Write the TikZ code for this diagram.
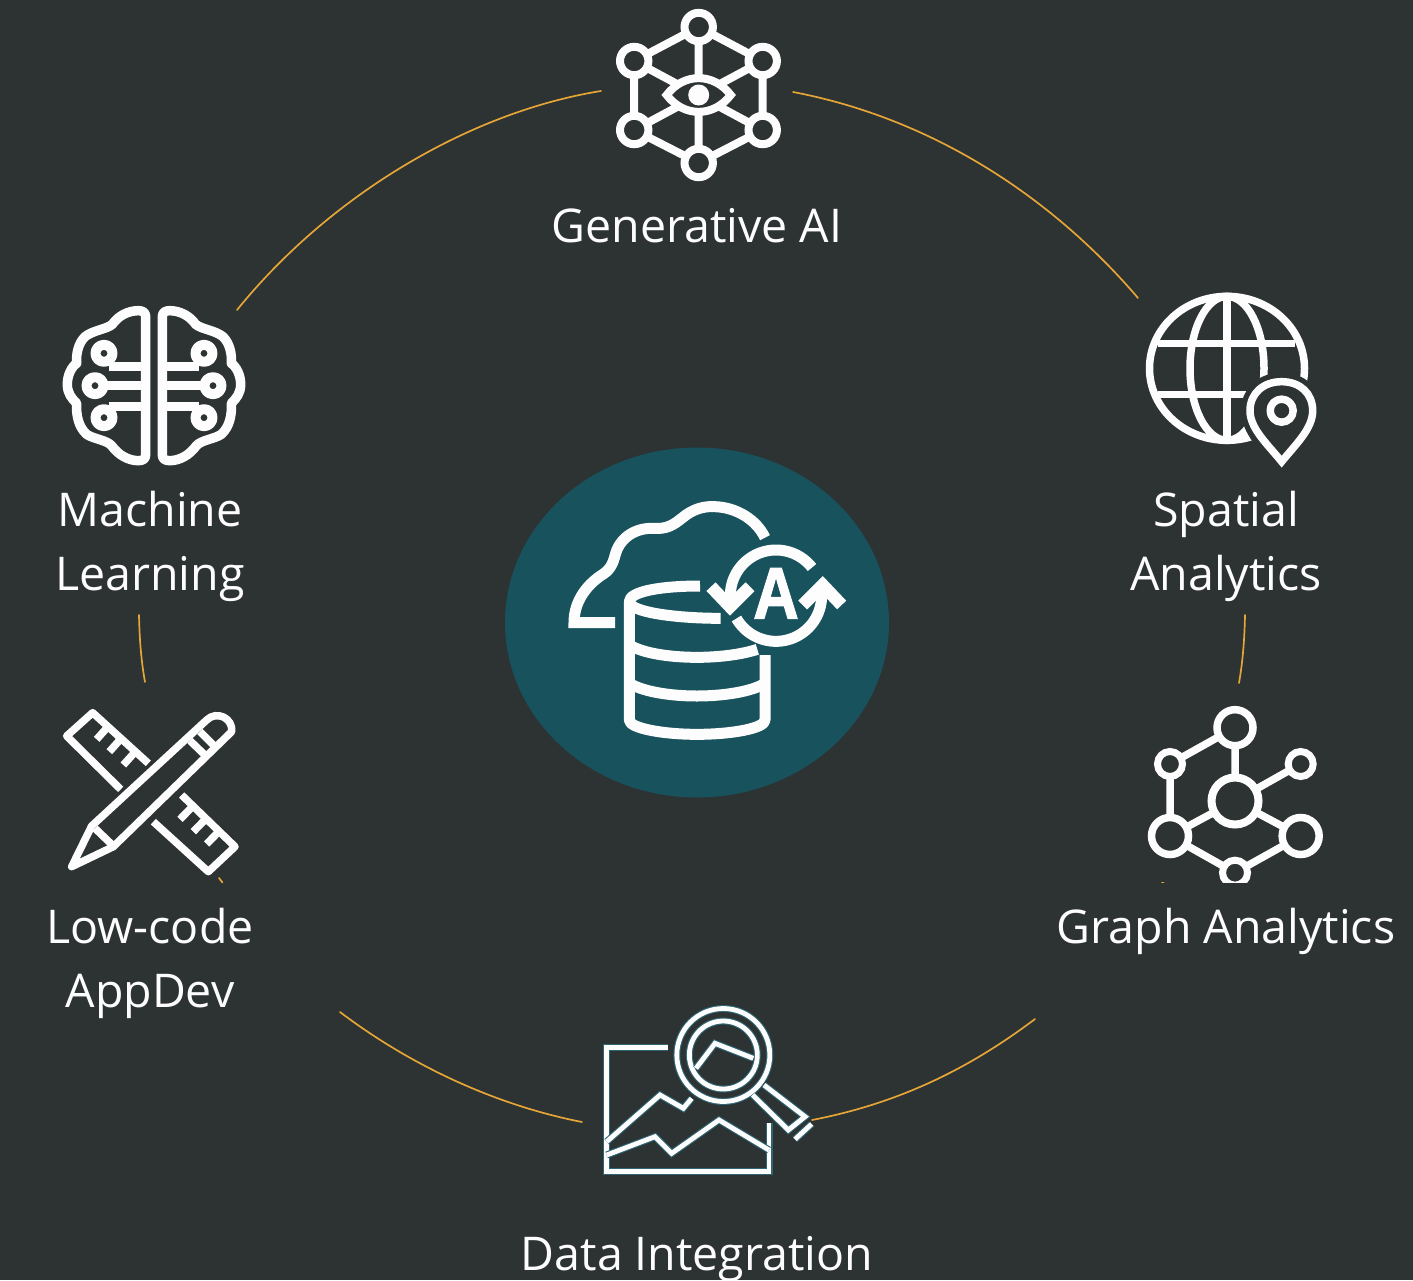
\documentclass[tikz,border=0pt]{standalone}
\usepackage{fontspec}
\usetikzlibrary{shapes.geometric}
\setmainfont{Open Sans}
\newfontfamily\iconfont{Liberation Sans}[BoldFeatures={FakeBold=2}]
\definecolor{bgcol}{HTML}{2D3233}
\definecolor{tealcol}{HTML}{18525D}
\definecolor{arccol}{HTML}{E5A537}
\definecolor{glowcol}{HTML}{2F6473}
\definecolor{inkcol}{HTML}{FDFDFD}
\tikzset{
  arcline/.style={draw=arccol,line width=1.7pt,line cap=round},
  labeltext/.style={text=inkcol,font=\fontsize{46.5}{64}\selectfont,align=center,inner sep=0pt},
  ink/.style={draw=inkcol,line width=#1,line join=round},
  ink/.default=8pt,
  ring/.style={draw=inkcol,fill=bgcol,line width=#1},
  ring/.default=8pt,
  zoomed/.style={x=0.33333pt,y=-0.33333pt},
  glowlo/.style={draw=glowcol,line width=7pt,line join=miter},
  glowhi/.style={draw=inkcol,line width=4.8pt,line join=miter},
}
\newcommand{\glowdraw}[1]{\draw[glowlo] #1; \draw[glowhi] #1;}
\begin{document}
\begin{tikzpicture}[x=1pt,y=-1pt]
\useasboundingbox (0,0) rectangle (1413,1280);
\clip (0,0) rectangle (1413,1280);
\fill[bgcol] (0,0) rectangle (1413,1280);

% ring of arcs
\coordinate (a1) at (601,91); \coordinate (a2) at (237,310);
\coordinate (b1) at (793,92); \coordinate (b2) at (1138,298);
\coordinate (c1) at (340,1012); \coordinate (c2) at (582,1122);
\coordinate (d1) at (812,1120); \coordinate (d2) at (1035,1019);
\coordinate (e1) at (139,615); \coordinate (e2) at (145,682);
\coordinate (f1) at (1245,615); \coordinate (f2) at (1239,683);
\draw[arcline] (a1) .. controls (470,112) and (330,195) .. (a2);
\draw[arcline] (b1) .. controls (930,118) and (1050,195) .. (b2);
\draw[arcline] (c1) .. controls (410,1065) and (495,1105) .. (c2);
\draw[arcline] (d1) .. controls (900,1103) and (970,1068) .. (d2);
\draw[arcline] (e1) .. controls (139.5,638) and (141,660) .. (e2);
\draw[arcline] (f1) .. controls (1244.5,638) and (1243,660) .. (f2);
\coordinate (k1) at (219,878); \coordinate (k2) at (222.5,882.5);
\draw[arcline] (k1) -- (k2);
\coordinate (h1) at (1162,882.5); \coordinate (h2) at (1163.5,882.5);
\draw[arcline] (h1) -- (h2);

% centre
\node[ellipse,fill=tealcol,minimum width=384pt,minimum height=350pt,inner sep=0pt] (hub) at (697,622.5) {};
\begin{scope}[shift={(550,490)},zoomed]
  \draw[ink=11pt,line cap=butt,line join=miter] (195,398) -- (72,398) .. controls (72,330) and (115,280) .. (160,252)
     .. controls (185,235) and (190,215) .. (197,190) .. controls (212,140) and (260,113) .. (310,115)
     .. controls (350,118) and (370,105) .. (395,85) .. controls (430,55) and (465,48) .. (495,50)
     .. controls (560,52) and (620,90) .. (645,143);
  \draw[ink=11pt,line cap=butt] (450,288) .. controls (330,288) and (238,305) .. (238,335)
     .. controls (238,365) and (370,385) .. (512,385);
  \draw[ink=11pt,line cap=butt] (238,335) -- (238,690) .. controls (238,715) and (340,733) .. (441,733)
     .. controls (545,733) and (645,715) .. (645,690) -- (645,495);
  \draw[ink=11pt,line cap=butt] (238,465) .. controls (280,490) and (360,502) .. (441,502)
     .. controls (500,502) and (570,495) .. (622,478);
  \draw[ink=11pt,line cap=butt] (238,580) .. controls (280,605) and (360,618) .. (441,618)
     .. controls (520,618) and (605,605) .. (645,580);
  \draw[ink=11pt,line cap=butt] plot[domain=170:322,samples=50] ({678+137*cos(\x)},{317+137*sin(\x)});
  \draw[ink=11pt,line cap=butt] plot[domain=-12:150,samples=50] ({678+137*cos(\x)},{317+137*sin(\x)});
  \draw[ink=12.5pt,line cap=butt,line join=miter] (483,290) -- (540,350) -- (600,290);
  \draw[ink=12.5pt,line cap=butt,line join=miter] (758,345) -- (818,285) -- (875,345);
  \node[inner sep=0pt,text=inkcol,font=\iconfont\bfseries\fontsize{73}{73}\selectfont,xscale=0.86] (letterA) at (678,310) {A};
\end{scope}

% top icon
\begin{scope}[shift={(698.7,95)}]
  \coordinate (t0) at (0,-68); \coordinate (t1) at (64,-34); \coordinate (t2) at (64,35);
  \coordinate (t3) at (0,68); \coordinate (t4) at (-64.5,35); \coordinate (t5) at (-64.5,-34);
  \coordinate (tc) at (0,0);
  \draw[ink] (t0) -- (t1) -- (t2) -- (t3) -- (t4) -- (t5) -- cycle;
  \draw[ink] (t0) -- (t3) (t1) -- (t4) (t2) -- (t5);
  \draw[ink=8pt,fill=bgcol,line join=miter] (-32,0) .. controls (-15,-22.5) and (15,-22.5) .. (32,0) .. controls (15,22.5) and (-15,22.5) .. (-32,0) -- cycle;
  \fill[inkcol] (tc) circle[radius=10.5pt];
  \foreach \p in {t0,t1,t2,t3,t4,t5} \draw[ring] (\p) circle[radius=14.2pt];
\end{scope}

% brain
\begin{scope}[shift={(50,295)},zoomed]
  \foreach \sx/\ox in {1/0,-1/624}{
  \begin{scope}[shift={(\ox,0)},xscale=\sx]
    \draw[ink=9.5pt] (287,480) -- (287,65) .. controls (287,52) and (278,47) .. (265,47)
      .. controls (235,47) and (205,62) .. (187,88) .. controls (170,103) and (130,105) .. (105,125)
      .. controls (85,145) and (78,175) .. (80,205) .. controls (65,215) and (52,240) .. (52,268)
      .. controls (52,295) and (65,310) .. (80,325) .. controls (78,360) and (85,395) .. (110,418)
      .. controls (130,432) and (170,435) .. (185,452) .. controls (205,480) and (235,497) .. (265,497)
      .. controls (278,497) and (287,492) .. (287,480) -- cycle;
    \draw[ink=10pt,fill=bgcol] (162,175) circle[radius=8.5pt];
    \draw[ink=10pt,fill=bgcol] (135,272) circle[radius=8.5pt];
    \draw[ink=10pt,fill=bgcol] (162,368) circle[radius=8.5pt];
    \draw[ink=9.5pt] (178,214) -- (287,214) (160,272) -- (287,272) (178,335) -- (287,335);
  \end{scope}}
\end{scope}

% globe
\begin{scope}[shift={(1130,280)},zoomed]
  \draw[ink=7.5pt] (291,265) ellipse[x radius=77.5pt,y radius=72pt];
  \draw[ink=7.5pt] (291,265) ellipse[x radius=37pt,y radius=72pt];
  \draw[ink=7.5pt] (291,50) -- (291,480) (85,190) -- (495,190) (85,343) -- (495,343);
  \draw[draw=bgcol,fill=bgcol,line width=18pt,line join=round] (455,555) .. controls (410,495) and (360,445) .. (360,392)
     .. controls (360,340) and (400,305) .. (455,305) .. controls (510,305) and (548,340) .. (548,392)
     .. controls (548,445) and (500,495) .. (455,555) -- cycle;
  \draw[ink=7.5pt,fill=bgcol,line join=miter] (455,545) .. controls (410,490) and (360,445) .. (360,392)
     .. controls (360,340) and (400,305) .. (455,305) .. controls (510,305) and (548,340) .. (548,392)
     .. controls (548,445) and (500,490) .. (455,545) -- cycle;
  \draw[ink=7.5pt] (455,392) circle[radius=11.5pt];
\end{scope}

% ruler and pencil
\begin{scope}[shift={(50,700)},zoomed]
  \draw[ink=7.5pt] (295,190) -- (128,38) -- (50,108) -- (212,268);
  \draw[ink=7.5pt] (310,365) -- (475,515) -- (555,440) -- (395,285);
  \draw[ink=7.5pt] (174,80) -- (140,118) (213,116) -- (178,155) (256,155) -- (220,195);
  \draw[ink=7.5pt] (429,318) -- (390,358) (468,356) -- (430,395) (507,394) -- (470,432);
  \draw[ink=7.5pt] (65,500) -- (125,378) -- (470,60) .. controls (500,30) and (550,55) .. (545,95)
     -- (190,440) -- cycle;
  \draw[ink=7.5pt] (420,122) -- (472,172) (450,95) -- (500,145) (135,385) -- (187,435);
\end{scope}

% graph
\begin{scope}[shift={(1135,700)},zoomed]
  \clip (0,0) rectangle (600,548);
  \coordinate (g0) at (300,83); \coordinate (g1) at (105,192); \coordinate (g2) at (497,192);
  \coordinate (g3) at (300,303); \coordinate (g4) at (105,408); \coordinate (g5) at (497,408);
  \coordinate (g6) at (300,518);
  \draw[ink=7.5pt] (g0) -- (g3) (g1) -- (g0) (g1) -- (g4) (g2) -- (g3) (g4) -- (g3) (g5) -- (g3) (g4) -- (g6) (g5) -- (g6);
  \draw[ring=7.5pt] (g0) circle[radius=18pt];
  \draw[ring=7pt] (g1) circle[radius=12.5pt];
  \draw[ring=7pt] (g2) circle[radius=12.5pt];
  \draw[ring=8pt] (g3) circle[radius=23.5pt];
  \draw[ring=7.5pt] (g4) circle[radius=18.5pt];
  \draw[ring=7.5pt] (g5) circle[radius=18.5pt];
  \draw[ring=7pt] (g6) circle[radius=12.5pt];
\end{scope}

% map with magnifier
\begin{scope}[shift={(590,1000)},zoomed]
  \glowdraw{(235,142) -- (50,142) -- (50,515) -- (537,515) -- (537,370)}
  \glowdraw{(50,425) -- (210,285) -- (280,325) -- (305,295)}
  \glowdraw{(50,465) -- (195,410) -- (245,460) -- (387,360) -- (537,450)}
  \glowdraw{(400,165) circle[radius=46.5pt]}
  \glowdraw{(400,165) circle[radius=34pt]}
  \glowdraw{(318,205) -- (375,130) -- (490,175)}
  \glowdraw{(488,285) -- (595,390) -- (645,350) -- (522,255)}
  \glowdraw{(615,418) -- (665,372)}
\end{scope}

% labels
\node[labeltext] (genai) at (697,225.5) {Generative AI};
\node[labeltext] (ml) at (150,546) {Machine\\Learning};
\node[labeltext] (spatial) at (1226,546) {Spatial\\Analytics};
\node[labeltext] (lowcode) at (150,963) {Low-code\\AppDev};
\node[labeltext] (graph) at (1226,931) {Graph Analytics};
\node[labeltext] (dataint) at (697,1259) {Data Integration};
\end{tikzpicture}
\end{document}
